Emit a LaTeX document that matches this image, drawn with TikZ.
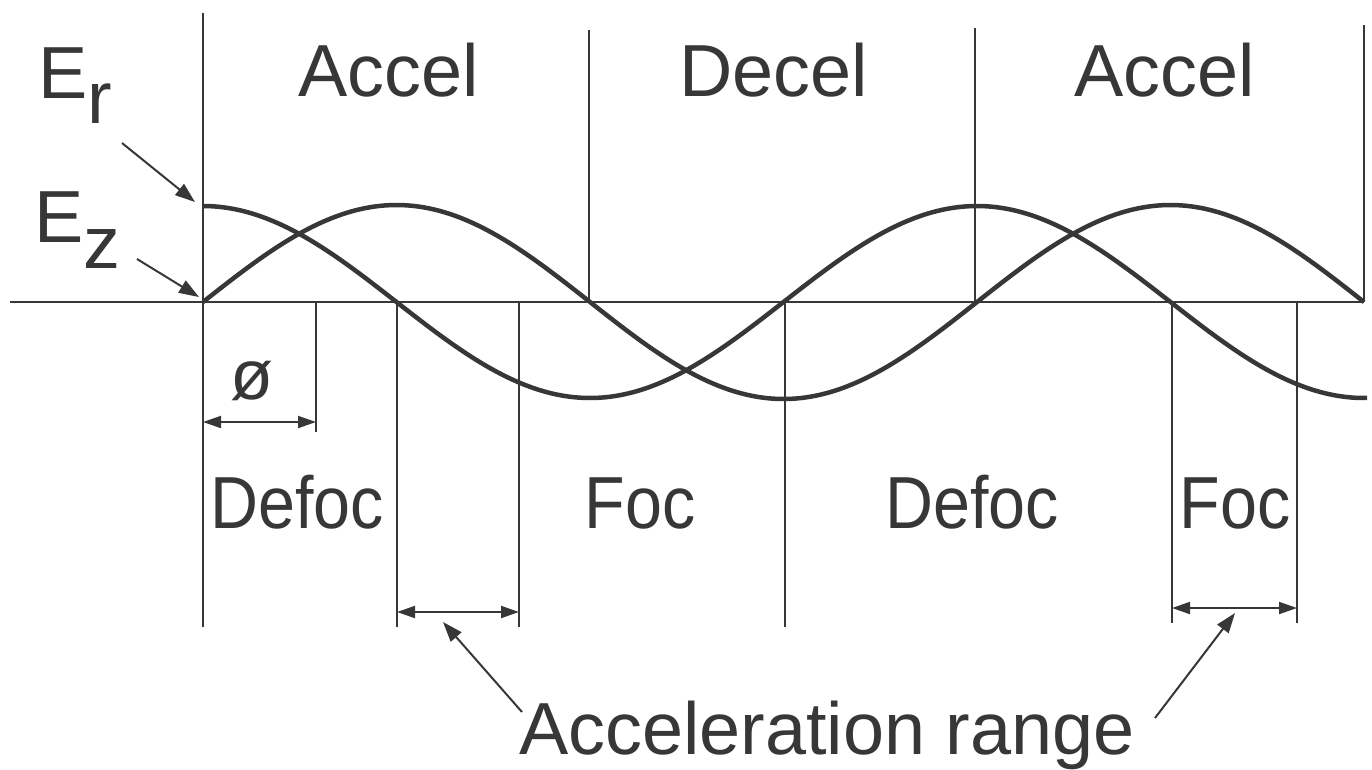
\documentclass[tikz,border=0pt]{standalone}
\usepackage{fontspec}
\setmainfont{Liberation Sans}
\usepackage{tikz}
\usetikzlibrary{arrows.meta,calc}
\definecolor{inkgray}{RGB}{55,55,55}
\newcommand{\lowered}[2]{\raisebox{-#1}{#2}}
\newcommand{\narrow}[1]{\scalebox{0.9}[1]{#1}}

\begin{document}
\begin{tikzpicture}[x=0.1mm,y=-0.1mm,
    rule/.style={inkgray,line width=0.2mm},
    wave/.style={inkgray,line width=0.45mm},
    lbl/.style={text=inkgray,font=\fontsize{21}{25}\selectfont,anchor=base,inner sep=0pt},
    dimarrow/.style={rule,{Triangle[length=1.8mm,width=1.2mm]}-{Triangle[length=1.8mm,width=1.2mm]}},
    pointer/.style={rule,-{Triangle[length=2mm,width=1.4mm]}}]
    \useasboundingbox (0,0) rectangle (1372,769);
    % axis
    \draw[rule] (10,302) -- (1364,302);
    % dividers above the axis
    \foreach \x/\ytop in {203/13, 589/30, 975/28, 1364/25}
        \draw[rule] (\x,\ytop) -- (\x,302);
    % dividers below the axis
    \foreach \x/\ybot in {203/627, 316/432, 397/627, 519/627, 785/627, 1172/623, 1297/623}
        \draw[rule] (\x,302) -- (\x,\ybot);
    % E_z (sin) and E_r (cos), period 774
    \draw[wave] plot[domain=203:1364,samples=150,smooth] (\x,{302-97*sin((\x-203)/774*360)});
    \draw[wave] plot[domain=203:1367,samples=150,smooth] (\x,{302-96*cos((\x-203)/774*360)});
    % field labels
    \node[lbl,anchor=base west] (er) at (38,98) {E\lowered{2.5mm}{r}};
    \node[lbl,anchor=base west] (ez) at (34,242) {E\lowered{2.6mm}{z}};
    \coordinate (erTail) at (122,143);
    \coordinate (erTip) at (195,202);
    \coordinate (ezTail) at (137,259);
    \coordinate (ezTip) at (199,297);
    \draw[pointer] (erTail) -- (erTip);
    \draw[pointer] (ezTail) -- (ezTip);
    % top row
    \foreach \txt/\x/\nm in {Accel/389/accelA, Decel/774/decel, Accel/1165/accelB}
        \node[lbl] (\nm) at (\x,96) {\txt};
    % bottom row
    \foreach \txt/\x/\nm in {Defoc/297/defocA, Foc/640/focA, Defoc/972/defocB, Foc/1235/focB}
        \node[lbl] (\nm) at (\x,528) {\narrow{\txt}};
    % phase
    \node[lbl,font=\fontsize{20}{22}\selectfont] (phase) at (252,399) {ø};
    \coordinate (phL) at (203,422);
    \coordinate (phR) at (316,422);
    \draw[dimarrow] (phL) -- (phR);
    % acceleration ranges
    \coordinate (rgAL) at (397,612);
    \coordinate (rgAR) at (519,612);
    \coordinate (rgBL) at (1172,608);
    \coordinate (rgBR) at (1297,608);
    \draw[dimarrow] (rgAL) -- (rgAR);
    \draw[dimarrow] (rgBL) -- (rgBR);
    \node[lbl] (range) at (827,754) {Acceleration range};
    \coordinate (rgTailA) at (522,712);
    \coordinate (rgTipA) at (443,622);
    \coordinate (rgTailB) at (1155,718);
    \coordinate (rgTipB) at (1235,613);
    \draw[pointer] (rgTailA) -- (rgTipA);
    \draw[pointer] (rgTailB) -- (rgTipB);
\end{tikzpicture}
\end{document}
